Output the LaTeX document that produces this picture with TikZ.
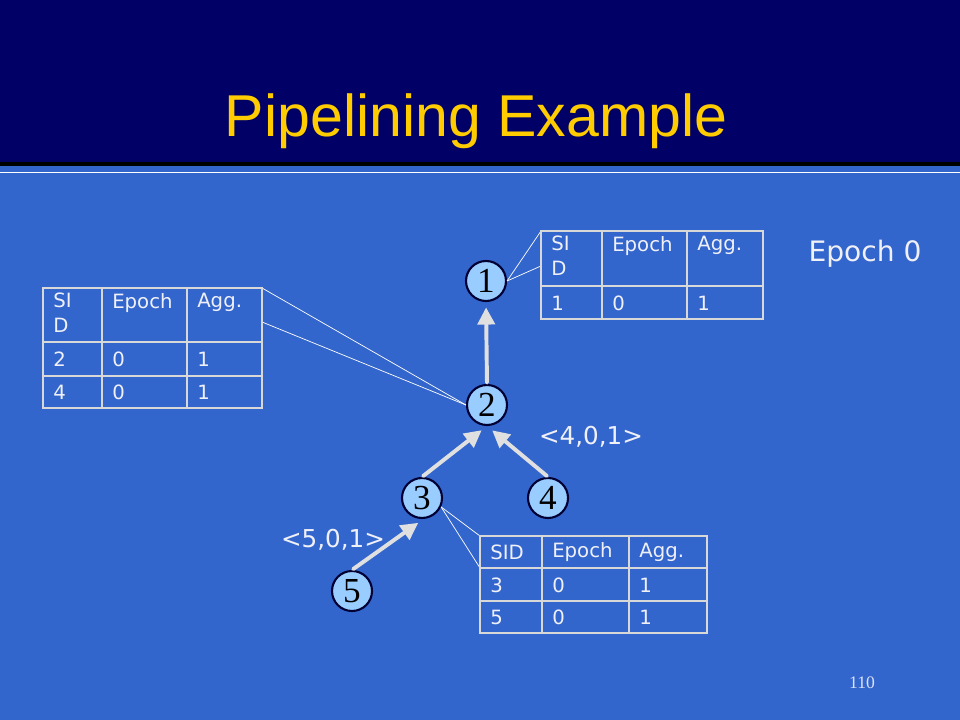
\documentclass[tikz,border=0pt]{standalone}
\usepackage{fontspec}
\setmainfont{Liberation Serif}
\newfontfamily\titlefont{Liberation Sans}
\newfontfamily\comicfont{DejaVu Sans}
\usetikzlibrary{arrows.meta,positioning}

\definecolor{slideblue}{HTML}{3366CC}
\definecolor{headnavy}{HTML}{000066}
\definecolor{titleyellow}{HTML}{FFCC00}
\definecolor{nodefill}{HTML}{99CCFF}
\definecolor{nodeedge}{HTML}{000033}
\definecolor{arrowgray}{HTML}{E0E0E0}
\definecolor{tablegray}{HTML}{D8D8D8}
\definecolor{celltext}{HTML}{F0F0F8}

\tikzset{
	sensor/.style={circle, draw=nodeedge, fill=nodefill, line width=1.5pt, minimum size=1cm, inner sep=0pt, font=\fontsize{25}{25}\selectfont},
	flow/.style={draw=arrowgray, line width=2.8pt, line cap=round, -{Triangle[length=12pt,width=13pt,line width=0pt]}},
	callout/.style={draw=white, line width=0.5pt},
	grid/.style={draw=tablegray, line width=2pt},
	cell/.style={inner sep=0pt, text=celltext, font=\comicfont\fontsize{14}{17.5}\selectfont, align=left},
	tuple/.style={text=celltext, font=\comicfont\fontsize{17.5}{20}\selectfont}
}

\begin{document}
\begin{tikzpicture}[x=0.025cm, y=-0.025cm]
	\useasboundingbox (0,0) rectangle (960,720);
	\fill[slideblue] (0,0) rectangle (960,720);
	\fill[headnavy] (0,0) rectangle (960,162);
	\fill[black] (0,162) rectangle (960,166);
	\draw[white, line width=0.7pt] (0,172) -- (960,172);

	\coordinate (tab1nw) at (541,231);
	\coordinate (tab1w) at (541,266);
	\coordinate (tab2ne) at (262,288);
	\coordinate (tab2e) at (262,322);
	\coordinate (tab3nw) at (480,536);
	\coordinate (tab3w) at (480,568);
	\coordinate (tip3) at (418,523);

	\node (title) [anchor=base, text=titleyellow, font=\titlefont\fontsize{42}{42}\selectfont] at (476,137) {Pipelining Example};

	\node[sensor] (n1) at (486,281) {1};
	\node[sensor] (n2) at (487,405) {2};
	\node[sensor] (n3) at (422,498) {3};
	\node[sensor] (n4) at (548,498) {4};
	\node[sensor] (n5) at (352,591) {5};

	\draw[flow, shorten >=4pt, shorten <=1pt] (n2.north) -- (n1.south);
	\draw[flow, shorten >=5pt, shorten <=1pt] (n3.north) -- (n2.south);
	\draw[flow, shorten >=5pt, shorten <=1pt] (n4.north) -- (n2.south);
	\draw[flow, shorten <=1pt] (n5.north) -- (tip3);

	\draw[callout] (n1.east) -- (tab1nw);
	\draw[callout] (n1.east) -- (tab1w);
	\draw[callout] (n2.west) -- (tab2ne);
	\draw[callout] (n2.west) -- (tab2e);
	\draw[callout] (n3.-25) -- (tab3nw);
	\draw[callout] (n3.-25) -- (tab3w);

	% table at node 1
	\draw[grid] (541,231) rectangle (763,319);
	\draw[grid] (602,231) -- (602,319);
	\draw[grid] (687,231) -- (687,319);
	\draw[grid] (541,286) -- (763,286);
	\node[cell, anchor=north west] (t1sid) at (551,236) {SI\\D};
	\node[cell, anchor=north west] (t1epoch) at (612,236) {Epoch};
	\node[cell, anchor=north west] (t1agg) at (697,236) {Agg.};
	\node[cell, anchor=west] (t1a) at (551,303) {1};
	\node[cell, anchor=west] (t1b) at (612,303) {0};
	\node[cell, anchor=west] (t1c) at (697,303) {1};

	% table at node 2
	\draw[grid] (43,288) rectangle (262,408);
	\draw[grid] (102,288) -- (102,408);
	\draw[grid] (187,288) -- (187,408);
	\draw[grid] (43,342) -- (262,342);
	\draw[grid] (43,376) -- (262,376);
	\node[cell, anchor=north west] (t2sid) at (53,293) {SI\\D};
	\node[cell, anchor=north west] (t2epoch) at (112,293) {Epoch};
	\node[cell, anchor=north west] (t2agg) at (197,293) {Agg.};
	\node[cell, anchor=west] (t2a) at (53,359) {2};
	\node[cell, anchor=west] (t2b) at (112,359) {0};
	\node[cell, anchor=west] (t2c) at (197,359) {1};
	\node[cell, anchor=west] (t2d) at (53,392) {4};
	\node[cell, anchor=west] (t2e) at (112,392) {0};
	\node[cell, anchor=west] (t2f) at (197,392) {1};

	% table at node 3
	\draw[grid] (480,536) rectangle (707,633);
	\draw[grid] (542,536) -- (542,633);
	\draw[grid] (629,536) -- (629,633);
	\draw[grid] (480,568) -- (707,568);
	\draw[grid] (480,601) -- (707,601);
	\node[cell, anchor=west] (t3sid) at (490,552) {SID};
	\node[cell, anchor=west] (t3epoch) at (552,552) {Epoch};
	\node[cell, anchor=west] (t3agg) at (639,552) {Agg.};
	\node[cell, anchor=west] (t3a) at (490,585) {3};
	\node[cell, anchor=west] (t3b) at (552,585) {0};
	\node[cell, anchor=west] (t3c) at (639,585) {1};
	\node[cell, anchor=west] (t3d) at (490,617) {5};
	\node[cell, anchor=west] (t3e) at (552,617) {0};
	\node[cell, anchor=west] (t3f) at (639,617) {1};

	\node[tuple] (lab4) at (591,437) {<4,0,1>};
	\node[tuple] (lab5) at (333,540) {<5,0,1>};
	\node[text=celltext, font=\comicfont\fontsize{20}{24}\selectfont] (epoch) at (865,254) {Epoch 0};
	\node[text=celltext!90!slideblue, font=\fontsize{12.5}{14}\selectfont] (slideno) at (862,683) {110};

\end{tikzpicture}
\end{document}
